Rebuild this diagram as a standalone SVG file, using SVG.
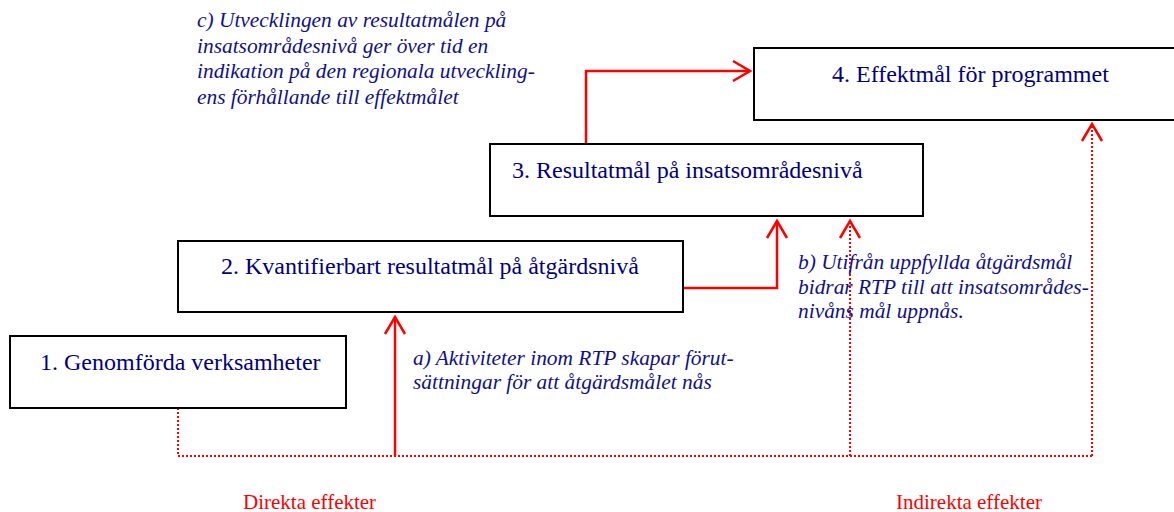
<svg xmlns="http://www.w3.org/2000/svg" width="1174" height="512" viewBox="0 0 1174 512">
  <style>
    .box { fill: #ffffff; stroke: #000000; stroke-width: 2; }
    .lbl { font-family: "Liberation Serif", "Times New Roman", serif; font-size: 24px; fill: #000080; }
    .note { font-family: "Liberation Serif", "Times New Roman", serif; font-size: 21.4px; font-style: italic; fill: #10108a; }
    .eff { font-family: "Liberation Serif", "Times New Roman", serif; font-size: 21px; fill: #ff0000; }
    .solid { fill: none; stroke: #ff0000; stroke-width: 2.5; }
    .dot { fill: none; stroke: #ff0000; stroke-width: 2; stroke-dasharray: 2 2; }
  </style>
  <defs>
    <marker id="open" markerUnits="userSpaceOnUse" viewBox="-20 -12 24 24" refX="0" refY="0" markerWidth="24" markerHeight="24" orient="auto" overflow="visible">
      <path d="M -17 -10 L 0 0 L -17 10" fill="none" stroke="#ff0000" stroke-width="2.5" stroke-dasharray="none"/>
    </marker>
  </defs>
  <rect width="1174" height="512" fill="#ffffff"/>

  <g id="connectors">
    <path class="dot" d="M 178 408 L 178 456 L 1092 456"/>
    <path class="dot" d="M 850 456 L 850 221" marker-end="url(#open)"/>
    <path class="dot" d="M 1092 456 L 1092 124" marker-end="url(#open)"/>
    <path class="solid" d="M 395 456 L 395 317" marker-end="url(#open)"/>
    <path class="solid" d="M 683 288 L 777 288 L 777 221" marker-end="url(#open)"/>
    <path class="solid" d="M 586 144 L 586 71 L 750 71" marker-end="url(#open)"/>
  </g>

  <g id="node1">
    <rect class="box" x="10" y="336" width="336" height="72"/>
    <text class="lbl" x="40" y="370">1. Genomförda verksamheter</text>
  </g>
  <g id="node2">
    <rect class="box" x="178" y="241" width="505" height="71"/>
    <text class="lbl" x="221" y="274">2. Kvantifierbart resultatmål på åtgärdsnivå</text>
  </g>
  <g id="node3">
    <rect class="box" x="490" y="144" width="433" height="72"/>
    <text class="lbl" x="512" y="178">3. Resultatmål på insatsområdesnivå</text>
  </g>
  <g id="node4">
    <rect class="box" x="754" y="48" width="440" height="72"/>
    <text class="lbl" x="832" y="82">4. Effektmål för programmet</text>
  </g>

  <g id="notes">
    <text class="note">
      <tspan x="197" y="27">c) Utvecklingen av resultatmålen på</tspan>
      <tspan x="197" y="52.5">insatsområdesnivå ger över tid en</tspan>
      <tspan x="197" y="78">indikation på den regionala utveckling-</tspan>
      <tspan x="197" y="103.5">ens förhållande till effektmålet</tspan>
    </text>
    <text class="note">
      <tspan x="413" y="365">a) Aktiviteter inom RTP skapar förut-</tspan>
      <tspan x="413" y="389">sättningar för att åtgärdsmålet nås</tspan>
    </text>
    <text class="note">
      <tspan x="798" y="269">b) Utifrån uppfyllda åtgärdsmål</tspan>
      <tspan x="798" y="294">bidrar RTP till att insatsområdes-</tspan>
      <tspan x="798" y="318">nivåns mål uppnås.</tspan>
    </text>
    <text class="eff" x="243" y="509">Direkta effekter</text>
    <text class="eff" x="896" y="509">Indirekta effekter</text>
  </g>
</svg>
